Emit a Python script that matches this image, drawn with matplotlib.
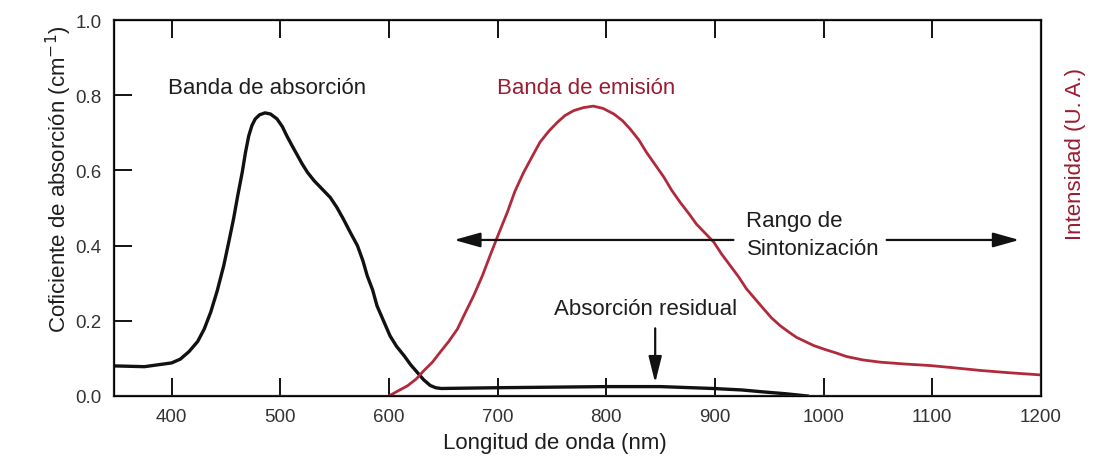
import numpy as np
import matplotlib.pyplot as plt

plt.rcParams['font.family'] = ['Liberation Sans', 'DejaVu Sans']

# Absorption band (black)
abs_nm = [348, 375, 400, 408, 416, 424, 430, 436, 442, 448, 453, 457, 461, 465,
          468, 471, 474, 477, 481, 486, 491, 497, 502, 506, 511, 516, 520, 525,
          531, 537, 546, 552, 558, 565, 571, 576, 580, 585, 589, 595, 601, 607,
          614, 620, 626, 632, 638, 643, 648, 700, 800, 850, 898, 925, 944, 965, 985]
abs_val = [0.080, 0.078, 0.088, 0.098, 0.118, 0.145, 0.178, 0.223, 0.280, 0.347,
           0.415, 0.471, 0.535, 0.595, 0.648, 0.692, 0.720, 0.737, 0.748, 0.753,
           0.750, 0.737, 0.716, 0.692, 0.665, 0.639, 0.618, 0.595, 0.573, 0.555,
           0.528, 0.502, 0.471, 0.432, 0.400, 0.360, 0.320, 0.282, 0.240, 0.200,
           0.160, 0.132, 0.107, 0.083, 0.063, 0.043, 0.028, 0.022, 0.020, 0.022,
           0.025, 0.025, 0.020, 0.016, 0.011, 0.006, 0.0]

# Emission band (red)
em_nm = [600, 608, 617, 625, 632, 640, 647, 655, 663, 670, 678, 686, 693, 701,
         709, 716, 724, 732, 739, 747, 755, 762, 770, 779, 788, 797, 807, 815,
         822, 830, 837, 845, 853, 860, 868, 876, 883, 891, 899, 906, 914, 922,
         929, 937, 945, 952, 960, 968, 975, 983, 991, 1001, 1012, 1021, 1036,
         1052, 1075, 1098, 1120, 1144, 1170, 1200]
em_val = [0.0, 0.013, 0.027, 0.045, 0.067, 0.090, 0.116, 0.145, 0.178, 0.220,
          0.267, 0.320, 0.373, 0.432, 0.489, 0.545, 0.595, 0.638, 0.675, 0.704,
          0.728, 0.746, 0.759, 0.767, 0.771, 0.765, 0.750, 0.732, 0.710, 0.681,
          0.648, 0.615, 0.582, 0.548, 0.515, 0.485, 0.457, 0.433, 0.409, 0.378,
          0.347, 0.316, 0.285, 0.258, 0.231, 0.208, 0.187, 0.170, 0.156, 0.145,
          0.134, 0.124, 0.114, 0.105, 0.096, 0.090, 0.085, 0.081, 0.075, 0.068,
          0.062, 0.056]

xticks = [400, 500, 600, 700, 800, 900, 1000, 1100, 1200]
yticks = [0.0, 0.2, 0.4, 0.6, 0.8, 1.0]

red = '#b12a3c'
dark_red = '#9a1c30'
text_col = '#1e1e1e'
fs = 16

fig = plt.figure(figsize=(10.93, 4.64), dpi=100)
ax = fig.add_axes([0.1043, 0.1444, 0.8481, 0.8103])

ax.plot(abs_nm, abs_val, color='#111111', lw=2.4, solid_joinstyle='round')
ax.plot(em_nm, em_val, color=red, lw=2.0, solid_joinstyle='round')

ax.set_xlim(347, 1200)
ax.set_ylim(0, 1.0)
ax.set_xticks(xticks)
ax.set_yticks(yticks)
ax.set_yticklabels([f'{v:.1f}' for v in yticks])
ax.tick_params(direction='in', length=13, width=1.3, top=True, right=True,
               labelsize=13.5, labelcolor='#333333', pad=9)
for s in ax.spines.values():
    s.set_linewidth(1.6)
    s.set_color('#222222')

ax.set_xlabel('Longitud de onda (nm)', fontsize=fs, color=text_col)
ax.xaxis.set_label_coords(0.476, -0.095)
ax.set_ylabel('Coficiente de absorción (cm$^{-1}$)', fontsize=fs, color=text_col)
ax.yaxis.set_label_coords(-0.043, 0.58)

ax2 = ax.twinx()
ax2.set_ylim(0, 1.0)
ax2.set_yticks([])
ax2.set_ylabel('Intensidad (U. A.)', fontsize=fs, color=dark_red)
ax2.yaxis.set_label_coords(1.026, 0.645)

# annotations
ax.text(397, 0.82, 'Banda de absorción', fontsize=fs, color=text_col, va='center')
ax.text(699, 0.82, 'Banda de emisión', fontsize=fs, color=dark_red, va='center')

head = '-|>,head_length=1.6,head_width=0.45'
ax.annotate('', xy=(660, 0.415), xytext=(917, 0.415),
            arrowprops=dict(arrowstyle=head, color='#111111', lw=1.6,
                            shrinkA=0, shrinkB=0))
ax.annotate('', xy=(1180, 0.415), xytext=(1058, 0.415),
            arrowprops=dict(arrowstyle=head, color='#111111', lw=1.6,
                            shrinkA=0, shrinkB=0))
ax.text(929, 0.43, 'Rango de\nSintonización', fontsize=fs, color=text_col,
        va='center', ha='left', linespacing=1.4)

ax.text(836, 0.233, 'Absorción residual', fontsize=fs, color=text_col,
        va='center', ha='center')
ax.annotate('', xy=(845, 0.035), xytext=(845, 0.18),
            arrowprops=dict(arrowstyle='-|>,head_length=1.6,head_width=0.4',
                            color='#111111', lw=1.6, shrinkA=0, shrinkB=0))

fig.savefig('out.png', dpi=100)
